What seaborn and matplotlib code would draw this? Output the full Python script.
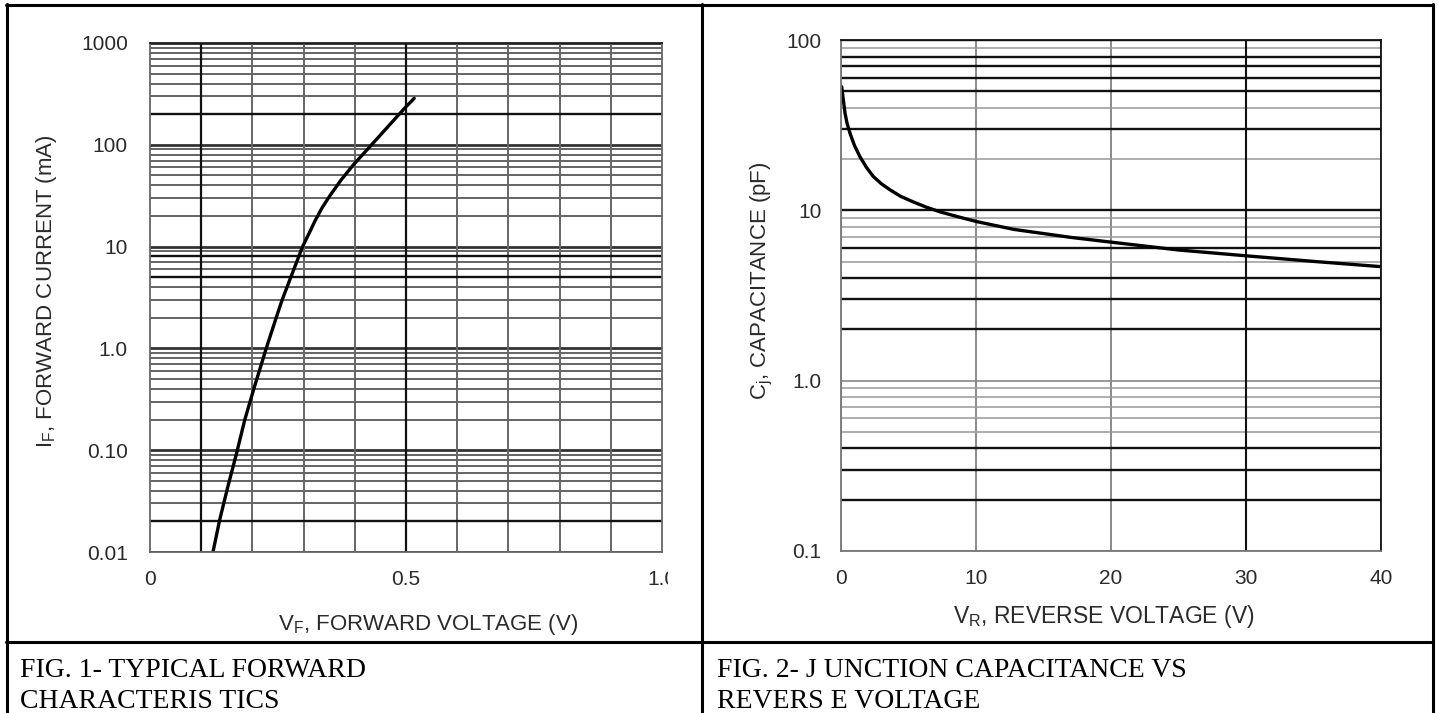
import matplotlib
matplotlib.use("Agg")
import pandas as pd
import matplotlib.pyplot as plt
import seaborn as sns
from matplotlib.lines import Line2D
from matplotlib.patches import Rectangle
from matplotlib.ticker import LogLocator, NullFormatter

# FIG. 1 - forward characteristics
vf_volts = [0.123, 0.136, 0.152, 0.169, 0.185, 0.204, 0.227, 0.245, 0.258,
            0.278, 0.298, 0.311, 0.323, 0.336, 0.350, 0.373, 0.397, 0.438, 0.497, 0.516]
if_ma = [0.01, 0.0206, 0.0437, 0.093, 0.198, 0.42, 1.0, 1.9, 2.99,
         5.47, 10.0, 13.6, 18.2, 24.0, 30.9, 45.0, 63.4, 107, 228, 286]

# FIG. 2 - junction capacitance vs reverse voltage
vr_volts = [0.05, 0.30, 0.45, 0.67, 1.0, 1.41, 1.9, 2.39, 3.0, 3.63, 4.4,
            5.36, 6.3, 7.33, 8.7, 10.1, 12.8, 17.0, 19.9, 25.0, 30.1, 35.2, 40.0]
cj_pf = [53.2, 37.1, 32.4, 28.3, 24.0, 20.6, 17.8, 15.8, 14.3, 13.2, 12.1,
         11.2, 10.45, 9.8, 9.15, 8.57, 7.73, 6.94, 6.52, 5.85, 5.4, 5.0, 4.67]

fwd_xticks = [0, 0.5, 1.0]
fwd_xlabels = ["0", "0.5", "1.0"]
fwd_yticks = [0.01, 0.1, 1, 10, 100, 1000]
fwd_ylabels = ["0.01", "0.10", "1.0", "10", "100", "1000"]
fwd_vgrid = [0.1, 0.2, 0.3, 0.4, 0.5, 0.6, 0.7, 0.8, 0.9]
fwd_vgrid_dark = [0.1, 0.5]
fwd_hgrid_dark = [1000, 200, 8, 5, 0.02]

cap_xticks = [0, 10, 20, 30, 40]
cap_xlabels = ["0", "10", "20", "30", "40"]
cap_yticks = [0.1, 1, 10, 100]
cap_ylabels = ["0.1", "1.0", "10", "100"]
cap_vgrid_dark = [30]
cap_hgrid_dark = [100, 80, 70, 60, 50, 30, 10, 6, 4, 3, 2, 0.4, 0.3, 0.2]

df_fwd = pd.DataFrame({"vf": vf_volts, "if": if_ma})
df_cap = pd.DataFrame({"vr": vr_volts, "cj": cj_pf})

sns.set_theme(style="white")
plt.rcParams["font.family"] = ["Liberation Sans", "DejaVu Sans"]
plt.rcParams["mathtext.fontset"] = "custom"
plt.rcParams["mathtext.rm"] = "Liberation Sans"

W, H = 1438, 713
fig = plt.figure(figsize=(W / 100, H / 100), dpi=100)
fig.patch.set_facecolor("white")


def px_box(x0, y0, x1, y1):
    return [x0 / W, 1 - y1 / H, (x1 - x0) / W, (y1 - y0) / H]


ax1 = fig.add_axes(px_box(150, 43, 662, 552))
ax2 = fig.add_axes(px_box(841, 40, 1381, 551))

tick_col = "#2a2a2a"

# ---------- FIG. 1 ----------
ax1.set_yscale("log")
ax1.set_xlim(0, 1.0)
ax1.set_ylim(0.01, 1000)
ax1.yaxis.set_minor_locator(LogLocator(base=10, subs=range(2, 10)))
ax1.yaxis.set_minor_formatter(NullFormatter())
ax1.grid(which="major", axis="y", color="#333333", lw=2.0)
ax1.grid(which="minor", axis="y", color="#4a4a4a", lw=1.2)
for v in fwd_vgrid:
    dark = v in fwd_vgrid_dark
    ax1.axvline(v, color="#111111" if dark else "#666666", lw=1.6 if dark else 1.4)
for h in fwd_hgrid_dark:
    ax1.axhline(h, color="#111111", lw=1.7)
sns.lineplot(data=df_fwd, x="vf", y="if", ax=ax1, color="black", lw=2.4,
             estimator=None, sort=False)
ax1.set_xticks(fwd_xticks, fwd_xlabels)
ax1.set_yticks(fwd_yticks, fwd_ylabels)
ax1.tick_params(axis="both", which="both", length=0, labelsize=15, colors=tick_col)
ax1.tick_params(axis="y", pad=16)
ax1.tick_params(axis="x", pad=13)
for s in ax1.spines.values():
    s.set_color("#666666")
    s.set_linewidth(1.3)
ax1.spines["top"].set_color("#222222")
ax1.set_xlabel(r"V$_\mathregular{F}$, FORWARD VOLTAGE (V)", fontsize=16, color=tick_col)
ax1.set_ylabel(r"I$_\mathregular{F}$, FORWARD CURRENT (mA)", fontsize=16, color=tick_col)
ax1.xaxis.set_label_coords(0.543, -0.143)
ax1.xaxis.label.set_va("center")
ax1.yaxis.set_label_coords(-0.203, 0.513)
ax1.yaxis.label.set_va("center")

# the "1.0" label is cut off by the table cell in the original
clip = Rectangle((0, 0), 668 / W, 1, transform=fig.transFigure)
last = ax1.xaxis.get_major_ticks()[-1].label1
last.set_clip_on(True)
last.set_clip_path(clip)

# ---------- FIG. 2 ----------
ax2.set_yscale("log")
ax2.set_xlim(0, 40)
ax2.set_ylim(0.1, 100)
ax2.yaxis.set_minor_locator(LogLocator(base=10, subs=range(2, 10)))
ax2.yaxis.set_minor_formatter(NullFormatter())
ax2.grid(which="major", axis="y", color="#888888", lw=1.2)
ax2.grid(which="minor", axis="y", color="#999999", lw=1.1)
ax2.grid(which="major", axis="x", color="#777777", lw=1.2)
for v in cap_vgrid_dark:
    ax2.axvline(v, color="#111111", lw=1.5)
for h in cap_hgrid_dark:
    ax2.axhline(h, color="#111111", lw=1.7)
sns.lineplot(data=df_cap, x="vr", y="cj", ax=ax2, color="black", lw=2.4,
             estimator=None, sort=False)
ax2.set_xticks(cap_xticks, cap_xlabels)
ax2.set_yticks(cap_yticks, cap_ylabels)
ax2.tick_params(axis="both", which="both", length=0, labelsize=15, colors=tick_col)
ax2.tick_params(axis="y", pad=14)
ax2.tick_params(axis="x", pad=13)
for s in ax2.spines.values():
    s.set_color("#777777")
    s.set_linewidth(1.3)
ax2.spines["right"].set_color("#111111")
ax2.spines["top"].set_color("#111111")
ax2.set_xlabel(r"V$_\mathregular{R}$, REVERSE VOLTAGE (V)", fontsize=16.5, color=tick_col)
ax2.set_ylabel(r"C$_\mathregular{j}$, CAPACITANCE (pF)", fontsize=16, color=tick_col)
ax2.xaxis.set_label_coords(0.486, -0.129)
ax2.xaxis.label.set_va("center")
ax2.yaxis.set_label_coords(-0.1455, 0.528)
ax2.yaxis.label.set_va("center")

# ---------- table frame ----------
frame_lw = 2.2


def hline(y, x0, x1):
    fig.add_artist(Line2D([x0 / W, x1 / W], [1 - y / H, 1 - y / H],
                          color="black", lw=frame_lw, transform=fig.transFigure))


def vline(x, y0, y1):
    fig.add_artist(Line2D([x / W, x / W], [1 - y0 / H, 1 - y1 / H],
                          color="black", lw=frame_lw, transform=fig.transFigure))


hline(4.5, 6, 1433)
hline(642, 6, 1433)
vline(6.5, 4, 713)
vline(702, 4, 713)
vline(1432.5, 4, 713)

# ---------- captions ----------
cap_font = dict(family=["Liberation Serif", "DejaVu Serif"], fontsize=20, color="black")
fig.text(20 / W, 1 - 677 / H, "FIG. 1- TYPICAL FORWARD", va="baseline", **cap_font)
fig.text(20 / W, 1 - 708 / H, "CHARACTERIS TICS", va="baseline", **cap_font)
fig.text(717 / W, 1 - 677 / H, "FIG. 2- J UNCTION CAPACITANCE VS", va="baseline", **cap_font)
fig.text(717 / W, 1 - 708 / H, "REVERS E VOLTAGE", va="baseline", **cap_font)

fig.savefig("out.png", dpi=100, facecolor="white")
